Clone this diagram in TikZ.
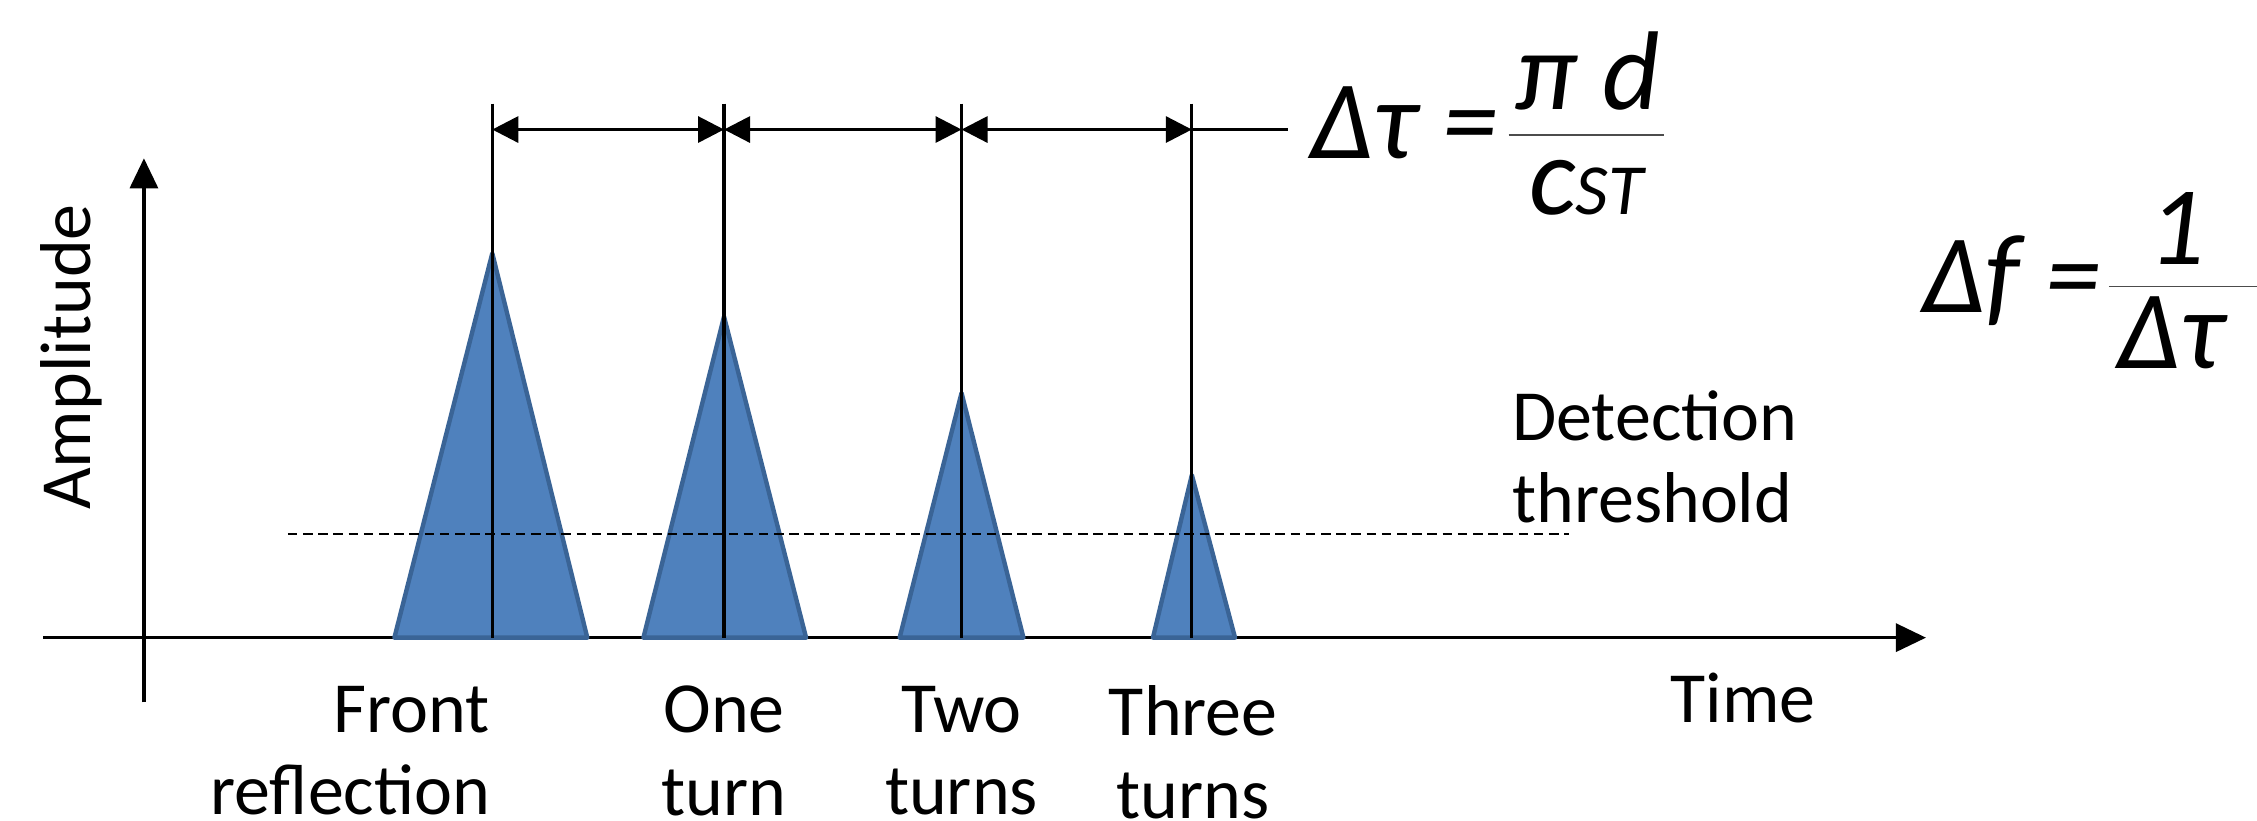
\documentclass[tikz,border=0pt]{standalone}
\usepackage{fontspec}
\setmainfont{Carlito}
\usetikzlibrary{arrows.meta}
\definecolor{pulsefill}{HTML}{4F81BD}
\definecolor{pulseedge}{HTML}{3A6496}
\begin{document}
\begin{tikzpicture}[x=0.36pt,y=-0.36pt,
  axis/.style={line width=0.8pt,-{Triangle[length=7.5pt,width=7pt]}},
  pulse/.style={fill=pulsefill,draw=pulseedge,line width=1.1pt,line join=round},
  marker/.style={line width=0.8pt},
  dim/.style={line width=0.8pt,{Triangle[length=6.5pt,width=6.5pt]}-{Triangle[length=6.5pt,width=6.5pt]}},
  thr/.style={line width=0.5pt,dash pattern=on 2.4pt off 1.4pt},
  lbl/.style={font=\fontsize{18}{20.6}\selectfont,inner sep=0pt},
  eq/.style={font=\fontsize{28}{30}\selectfont\itshape,inner sep=0pt},
  bar/.style={line width=0.45pt,draw=black!70}]
\useasboundingbox (0,0) rectangle (1568,570);

% axes
\coordinate (xs) at (30,443);
\coordinate (xe) at (1338,443);
\coordinate (ys) at (100,488);
\coordinate (ye) at (100,110);
\draw[axis] (xs) -- (xe);
\draw[axis] (ys) -- (ye);

% pulses
\draw[pulse] (274,443) -- (342,176) -- (408,443) -- cycle;
\draw[pulse] (447,443) -- (503,220) -- (560,443) -- cycle;
\draw[pulse] (625,443) -- (668,273) -- (711,443) -- cycle;
\draw[pulse] (801,443) -- (828,330) -- (858,443) -- cycle;

% marker lines
\foreach \n/\x in {1/342,2/503,3/668,4/828}{
  \coordinate (t\n) at (\x,72);
  \coordinate (b\n) at (\x,443);
  \coordinate (d\n) at (\x,90);
  \draw[marker] (t\n) -- (b\n);
}
\coordinate (dend) at (895,90);
\draw[dim] (d1) -- (d2);
\draw[dim] (d2) -- (d3);
\draw[dim] (d3) -- (d4);
\draw[marker] (d4) -- (dend);

% threshold
\coordinate (th1) at (200,371);
\coordinate (th2) at (1090,371);
\draw[thr] (th1) -- (th2);
\node[lbl,anchor=north west,align=left] (thrlabel) at (1050,271) {Detection\\threshold};

% labels
\node[lbl,anchor=north east,align=right] (lfront) at (341,476) {Front\\reflection};
\node[lbl,anchor=north,align=center] (lone) at (503,476) {One\\turn};
\node[lbl,anchor=north,align=center] (ltwo) at (668,476) {Two\\turns};
\node[lbl,anchor=north,align=center] (lthree) at (829,476) {Three\\turns};
\node[lbl,anchor=north] (ltime) at (1211,467) {Time};
\node[lbl,anchor=base,rotate=90] (lamp) at (63,248) {Amplitude};

% formula 1
\node[eq,anchor=base west] (dtau) at (910,110) {Δτ =};
\node[eq,anchor=base] (num1) at (1103,76) {π d};
\node[eq,anchor=base] (den1) at (1102,149) {c{\fontsize{18}{20}\selectfont ST}};
\coordinate (f1a) at (1048,94);
\coordinate (f1b) at (1156,94);
\draw[bar] (f1a) -- (f1b);

% formula 2
\node[eq,anchor=base west] (df) at (1335,217) {Δf =};
\node[eq,anchor=base] (num2) at (1512,184) {1};
\node[eq,anchor=base] (den2) at (1508,256) {Δτ};
\coordinate (f2a) at (1465,199);
\coordinate (f2b) at (1568,199);
\draw[bar] (f2a) -- (f2b);
\end{tikzpicture}
\end{document}
